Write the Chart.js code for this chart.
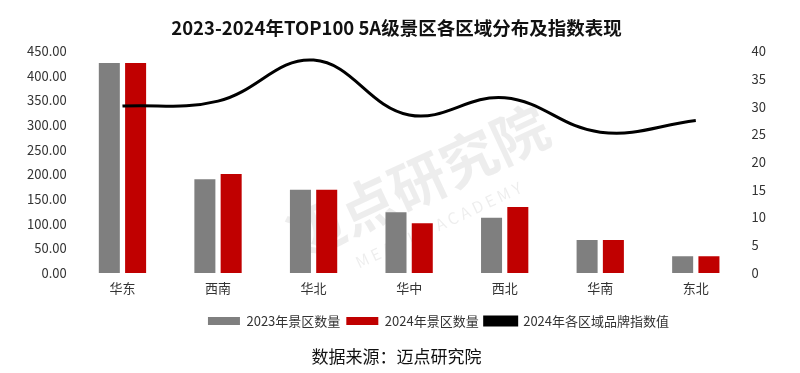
<!DOCTYPE html>
<html>
<head>
<meta charset="utf-8">
<script src="https://cdn.jsdelivr.net/npm/chart.js@4.4.0/dist/chart.umd.min.js"></script>
<style>
  html, body { margin: 0; padding: 0; background: #fff; }
  #wrap { width: 800px; height: 373px; }
</style>
</head>
<body>
<div id="wrap"><canvas id="c"></canvas></div>
<script>
// regions and values
var regions = ["华东", "西南", "华北", "华中", "西北", "华南", "东北"];
var count2023 = [426, 190, 169, 123, 112, 67, 34];
var count2024 = [426, 201, 169, 101, 134, 67, 34];
var brandIndex2024 = [30.1, 31.0, 38.4, 28.5, 31.6, 25.4, 27.5];

var leftTicks = [0, 450, 50];   // min, max, step
var rightTicks = [0, 40, 5];

var FONT = "'Noto Sans CJK SC', 'Noto Sans', sans-serif";

// faint watermark behind the bars
var watermark = {
    id: "watermark",
    beforeDatasetsDraw: function(chart) {
        var ctx = chart.ctx;
        ctx.save();
        ctx.translate(400, 190);
        ctx.rotate(-25 * Math.PI / 180);
        ctx.fillStyle = "rgba(0,0,0,0.07)";
        ctx.font = "bold 56px " + FONT;
        ctx.textAlign = "center";
        ctx.textBaseline = "middle";
        ctx.fillText("迈点研究院", 20, 0);
        ctx.font = "16px " + FONT;
        ctx.fillText("M E A D I N   A C A D E M Y", 20, 48);
        ctx.restore();
    }
};

// the legend in the picture sits a bit right of centre
var legendShift = {
    id: "legendShift",
    afterLayout: function(chart) {
        chart.legend.left += 42;
        chart.legend.right += 42;
    }
};

var ctx = document.getElementById("c").getContext("2d");
var chart = new Chart(ctx, {
    type: "bar",
    data: {
        labels: regions,
        datasets: [
            {
                label: "2023年景区数量",
                data: count2023,
                backgroundColor: "#7f7f7f",
                yAxisID: "y",
                order: 1,
                categoryPercentage: 0.55,
                barPercentage: 0.8
            },
            {
                label: "2024年景区数量",
                data: count2024,
                backgroundColor: "#c00000",
                yAxisID: "y",
                order: 1,
                categoryPercentage: 0.55,
                barPercentage: 0.8
            },
            {
                type: "line",
                label: "2024年各区域品牌指数值",
                data: brandIndex2024,
                borderColor: "#000",
                backgroundColor: "#000",
                borderWidth: 3,
                pointRadius: 0,
                tension: 0.4,
                yAxisID: "y1",
                order: 0
            }
        ]
    },
    options: {
        responsive: true,
        maintainAspectRatio: false,
        animation: false,
        layout: { padding: { left: 19, right: 26, top: 0, bottom: 4 } },
        plugins: {
            title: {
                display: true,
                text: "2023-2024年TOP100 5A级景区各区域分布及指数表现",
                color: "#111",
                font: { family: FONT, size: 18.5, weight: "bold" },
                padding: { top: 17, bottom: 12 }
            },
            subtitle: {
                display: true,
                position: "bottom",
                text: "数据来源：迈点研究院",
                color: "#111",
                font: { family: FONT, size: 17 },
                padding: { top: 9, bottom: 2 }
            },
            legend: {
                position: "bottom",
                labels: {
                    boxWidth: 32,
                    boxHeight: 8,
                    color: "#333",
                    font: { family: FONT, size: 13 },
                    padding: 6,
                    sort: function(a, b) { return a.datasetIndex - b.datasetIndex; }
                }
            },
            tooltip: { enabled: false }
        },
        scales: {
            x: {
                grid: { display: false, drawTicks: false },
                border: { display: false },
                ticks: { color: "#333", font: { family: FONT, size: 13 }, padding: 7 },
                afterFit: function(scale) { scale.height += 6; }
            },
            y: {
                position: "left",
                min: leftTicks[0],
                max: leftTicks[1],
                grid: { display: false, drawTicks: false },
                border: { display: false },
                ticks: {
                    stepSize: leftTicks[2],
                    color: "#333",
                    font: { family: FONT, size: 13 },
                    padding: 8,
                    callback: function(v) { return v.toFixed(2); }
                }
            },
            y1: {
                position: "right",
                min: rightTicks[0],
                max: rightTicks[1],
                grid: { display: false, drawTicks: false },
                border: { display: false },
                ticks: {
                    stepSize: rightTicks[2],
                    color: "#333",
                    font: { family: FONT, size: 13 },
                    padding: 8
                }
            }
        }
    },
    plugins: [watermark, legendShift]
});
</script>
</body>
</html>
